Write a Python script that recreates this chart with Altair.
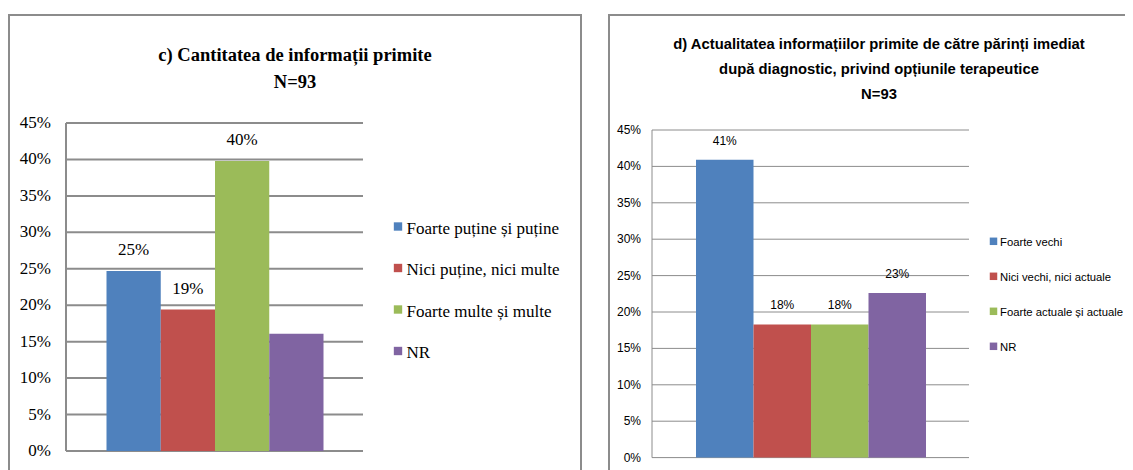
import altair as alt
import pandas as pd

# ---------------- data ----------------
left_categories = ["Foarte puține și puține", "Nici puține, nici multe", "Foarte multe și multe", "NR"]
left_values = [24.7, 19.4, 39.8, 16.1]
left_labels = ["25%", "19%", "40%", ""]
left_title = ["c) Cantitatea de informații primite", "N=93"]

right_categories = ["Foarte vechi", "Nici vechi, nici actuale", "Foarte actuale și actuale", "NR"]
right_values = [40.9, 18.3, 18.3, 22.6]
right_labels = ["41%", "18%", "18%", "23%"]
right_title = ["d) Actualitatea informațiilor primite de către părinți imediat",
               "după diagnostic, privind opțiunile terapeutice",
               "N=93"]

tick_values = [0, 5, 10, 15, 20, 25, 30, 35, 40, 45]
tick_labels = ["0%", "5%", "10%", "15%", "20%", "25%", "30%", "35%", "40%", "45%"]

colors = ["#4F81BD", "#C0504D", "#9BBB59", "#8064A2"]

W, H = 1117, 462
GRID = "#8c8c8c"


def panel(cats, vals, labels, title_lines, g):
    bars_df = pd.DataFrame({"cat": cats, "val": vals, "lab": labels})
    ticks_df = pd.DataFrame({"v": tick_values, "t": tick_labels})
    one = pd.DataFrame({"k": [0]})

    yscale = alt.Scale(domain=[0, 45], range=[g["y0"], g["y45"]], nice=False, zero=True)
    xscale = alt.Scale(domain=cats, range=[g["bx0"], g["bx1"]], paddingInner=0, paddingOuter=0)
    cscale = alt.Scale(domain=cats, range=colors)
    lscale = alt.Scale(type="point", domain=cats, range=[g["ly0"], g["ly1"]], padding=0)

    layers = []
    # frame
    layers.append(alt.Chart(one).mark_rect(fillOpacity=0, stroke=GRID, strokeWidth=2).encode(
        x=alt.value(g["fx0"]), x2=alt.value(g["fx1"]), y=alt.value(g["fy0"]), y2=alt.value(700)))
    # gridlines
    layers.append(alt.Chart(ticks_df).mark_rule(color=GRID, strokeWidth=g["gw"]).encode(
        y=alt.Y("v:Q", scale=yscale, axis=None),
        x=alt.value(g["px0"]), x2=alt.value(g["px1"])))
    # y axis line
    layers.append(alt.Chart(one).mark_rule(color=GRID, strokeWidth=g["gw"]).encode(
        x=alt.value(g["px0"]), y=alt.value(g["y45"]), y2=alt.value(g["y0"])))
    # tick labels
    layers.append(alt.Chart(ticks_df).mark_text(align="right", baseline="middle", font=g["font"],
                                                 fontSize=g["tick_fs"], color="#000000").encode(
        y=alt.Y("v:Q", scale=yscale, axis=None), x=alt.value(g["tx"]), text="t:N"))
    # bars
    layers.append(alt.Chart(bars_df).mark_bar(opacity=1).encode(
        x=alt.X("cat:N", scale=xscale, axis=None, sort=cats),
        y=alt.Y("val:Q", scale=yscale, axis=None),
        color=alt.Color("cat:N", scale=cscale, legend=None)))
    # data labels
    layers.append(alt.Chart(bars_df).mark_text(baseline="middle", dy=g["ldy"], font=g["font"],
                                               fontSize=g["lab_fs"], color="#000000").encode(
        x=alt.X("cat:N", scale=xscale, axis=None, sort=cats),
        y=alt.Y("val:Q", scale=yscale, axis=None),
        text="lab:N"))
    # title lines
    for line, ty in zip(title_lines, g["title_y"]):
        layers.append(alt.Chart(one).mark_text(baseline="middle", align="center", font=g["tfont"],
                                               fontSize=g["title_fs"], fontWeight="bold",
                                               color="#000000").encode(
            x=alt.value(g["title_x"]), y=alt.value(ty), text=alt.value(line)))
    # legend
    leg_df = pd.DataFrame({"cat": cats})
    layers.append(alt.Chart(leg_df).mark_square(size=g["sq"], opacity=1).encode(
        x=alt.value(g["sqx"]),
        y=alt.Y("cat:N", scale=lscale, axis=None),
        yOffset=alt.value(-2),
        color=alt.Color("cat:N", scale=cscale, legend=None)))
    layers.append(alt.Chart(leg_df).mark_text(align="left", baseline="middle", font=g["font"],
                                              fontSize=g["leg_fs"], color="#000000").encode(
        x=alt.value(g["legx"]),
        y=alt.Y("cat:N", scale=lscale, axis=None),
        text="cat:N"))
    return layers


left_geo = dict(fx0=1, fx1=573, fy0=7, px0=58, px1=355, y0=443, y45=115,
                bx0=98.5, bx1=315.5, gw=2, tx=43, tick_fs=17, lab_fs=17, ldy=-21,
                font="Liberation Serif", tfont="Liberation Serif", title_fs=18.5,
                title_x=287, title_y=[47, 74],
                sq=70, sqx=390, legx=398.5, ly0=220.5, ly1=345, leg_fs=17)

right_geo = dict(fx0=601, fx1=1400, fy0=7, px0=644, px1=961, y0=449.6, y45=122,
                 bx0=688, bx1=918, gw=1, tx=633, tick_fs=12, lab_fs=12, ldy=-19,
                 font="Liberation Sans", tfont="Liberation Sans", title_fs=14.8,
                 title_x=871, title_y=[37, 62, 87],
                 sq=56, sqx=985.5, legx=992, ly0=235.3, ly1=340.3, leg_fs=11.3)

layers = panel(left_categories, left_values, left_labels, left_title, left_geo) + \
         panel(right_categories, right_values, right_labels, right_title, right_geo)

chart = alt.layer(*layers).resolve_scale(
    x="independent", y="independent", color="independent"
).properties(
    width=W, height=H, padding=0,
    autosize=alt.AutoSizeParams(type="none"),
    background="white",
).configure_view(stroke=None)

chart.save("out.html", embed_options={"renderer": "svg", "actions": False})
